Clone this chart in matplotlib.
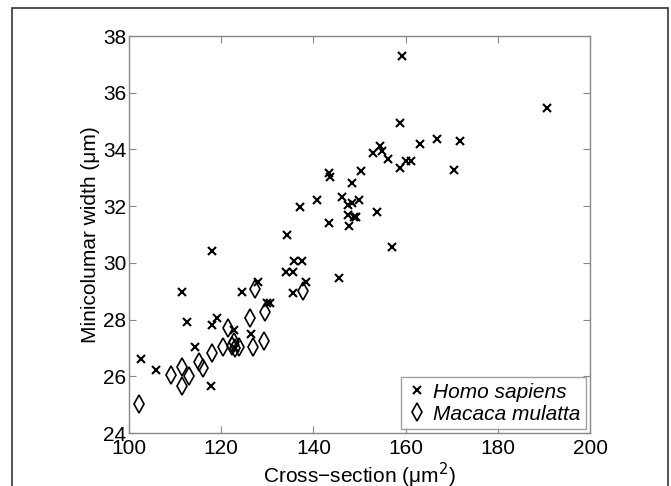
import matplotlib
matplotlib.use("Agg")
import matplotlib.pyplot as plt
from matplotlib.patches import Rectangle

plt.rcParams['font.family'] = ['Liberation Sans', 'DejaVu Sans']

homo_x = [102.6, 105.8, 111.4, 112.5, 114.4, 117.9, 117.7, 118.1, 119.0, 122.8,
          123.0, 124.6, 126.5, 127.9, 130.0, 130.6, 134.0, 134.2, 135.6, 135.7,
          135.6, 137.0, 137.6, 138.4, 140.8, 143.4, 143.4, 143.7, 145.5, 146.2,
          147.4, 147.4, 148.3, 148.3, 147.8, 148.7, 149.3, 149.8, 150.4, 152.9,
          153.9, 154.4, 154.9, 156.1, 157.0, 158.8, 158.8, 159.3, 160.1, 161.2,
          163.1, 166.8, 170.4, 171.9, 190.6]
homo_y = [26.61, 26.23, 28.96, 27.91, 27.05, 30.42, 25.67, 27.81, 28.05, 27.64,
          27.0, 28.96, 27.48, 29.34, 28.58, 28.58, 29.69, 30.98, 29.69, 30.07,
          28.95, 31.96, 30.07, 29.34, 32.22, 31.40, 33.18, 33.02, 29.45, 32.34,
          32.04, 31.70, 32.83, 32.12, 31.31, 31.61, 31.61, 32.22, 33.24, 33.89,
          31.81, 34.13, 33.95, 33.65, 30.55, 34.94, 33.33, 37.29, 33.58, 33.58,
          34.19, 34.37, 33.28, 34.30, 35.45]

mac_x = [102.2, 109.2, 111.6, 111.5, 113.1, 115.1, 116.0, 117.9, 120.4, 121.5,
         122.3, 122.8, 123.0, 123.8, 126.2, 127.0, 127.4, 129.2, 129.5, 137.8]
mac_y = [25.04, 26.05, 26.34, 25.67, 26.0, 26.52, 26.28, 26.83, 27.04, 27.71,
         27.06, 27.22, 27.0, 27.05, 28.07, 27.05, 29.08, 27.24, 28.27, 29.01]

x_ticks = [100, 120, 140, 160, 180, 200]
y_ticks = [24, 26, 28, 30, 32, 34, 36, 38]

fig = plt.figure(figsize=(6.71, 4.86), dpi=100)
W, H = 671, 486
L, R, T, B = 129, 590, 36, 433
ax = fig.add_axes([L / W, 1 - B / H, (R - L) / W, (B - T) / H])

ax.plot(homo_x, homo_y, linestyle='none', marker='x', color='black',
        markersize=6, markeredgewidth=1.5, label='Homo sapiens')
ax.plot(mac_x, mac_y, linestyle='none', marker='d', markerfacecolor='none',
        markeredgecolor='black', markersize=9, markeredgewidth=1.2,
        label='Macaca mulatta')

ax.set_xlim(100, 200)
ax.set_ylim(24, 38)
ax.set_xticks(x_ticks)
ax.set_yticks(y_ticks)
ax.tick_params(direction='in', top=True, right=True, labelsize=15,
               color='#888888', length=5, width=0.8)
ax.tick_params(axis='x', pad=4)
ax.tick_params(axis='y', pad=2)
for s in ax.spines.values():
    s.set_color('#888888')
    s.set_linewidth(1.0)

ax.set_xlabel('Cross\u2212section (\u03bcm$^2$)', fontsize=15, labelpad=2)
ax.set_ylabel('Minicolumar width (\u03bcm)', fontsize=15, labelpad=2)

leg = ax.legend(loc='lower right', prop={'style': 'italic', 'size': 15},
                frameon=True, fancybox=False, edgecolor='#888888',
                borderaxespad=0.2, handletextpad=0.3, handlelength=1.0,
                borderpad=0.25, labelspacing=0.15)
leg.get_frame().set_linewidth(1.0)

fig.patches.append(Rectangle((12 / W, -0.05), (668 - 12) / W, 1 - 8 / H + 0.05,
                             transform=fig.transFigure, fill=False,
                             edgecolor='#333333', linewidth=1.2))

fig.savefig('out.png', dpi=100)
